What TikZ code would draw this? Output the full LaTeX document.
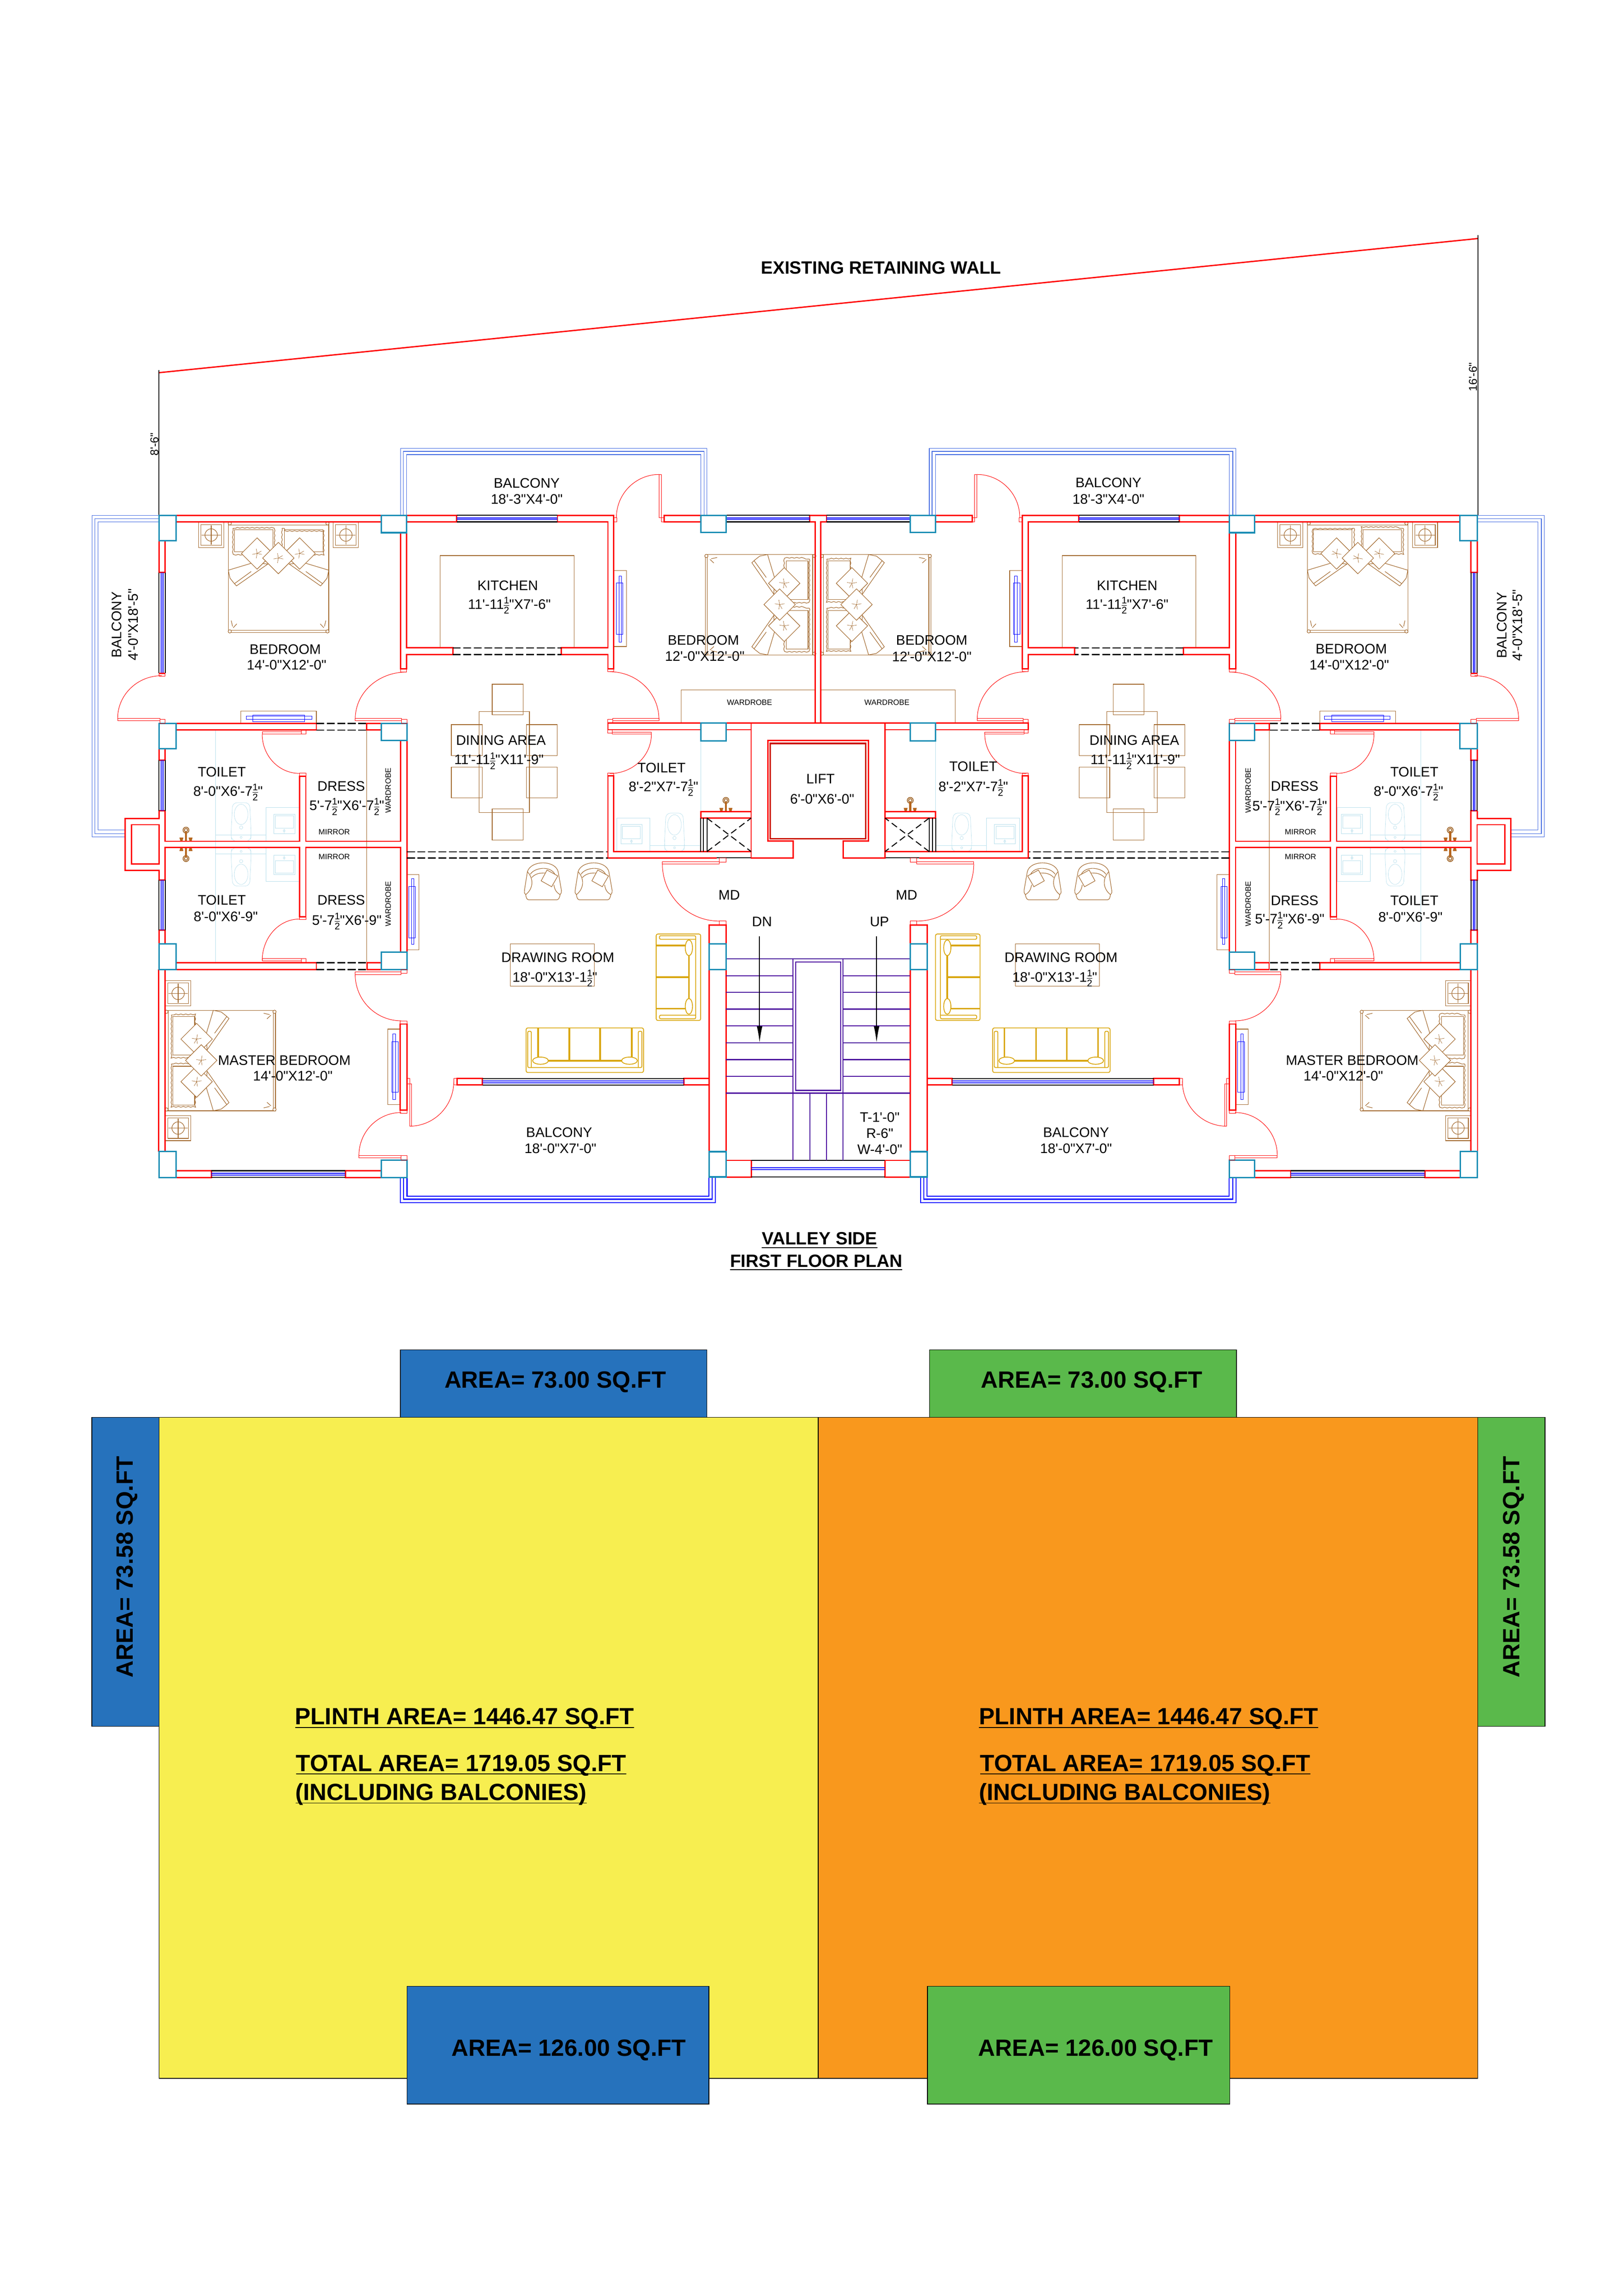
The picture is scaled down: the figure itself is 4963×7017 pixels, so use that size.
\documentclass[tikz,border=0pt]{standalone}
\usepackage{fontspec}
\usepackage{xcolor}
\usetikzlibrary{arrows.meta,decorations.pathmorphing}
\newfontfamily\cadfont{Liberation Sans}
\definecolor{wallred}{HTML}{FF0000}
\definecolor{liftred}{HTML}{CC1500}
\definecolor{colteal}{HTML}{1A8DB4}
\definecolor{paneblue}{HTML}{0000FF}
\definecolor{balblue}{HTML}{4169E1}
\definecolor{furnbrown}{HTML}{A0662A}
\definecolor{tapbrown}{HTML}{B5651D}
\definecolor{sanblue}{HTML}{B8DFEC}
\definecolor{sofagold}{HTML}{D9A60C}
\definecolor{stairviolet}{HTML}{4B0E9E}
\definecolor{areablue}{HTML}{2672BC}
\definecolor{areagreen}{HTML}{5AB94B}
\definecolor{areayellow}{HTML}{F7EE50}
\definecolor{areaorange}{HTML}{F9981D}
\tikzset{
  wall/.style={draw=wallred, line width=0.4mm},
  liftin/.style={draw=liftred, line width=0.45mm},
  colbox/.style={draw=colteal, line width=0.45mm, fill=white},
  winblk/.style={draw=black, line width=0.3mm},
  pane/.style={draw=paneblue, line width=0.28mm},
  gapline/.style={draw=black, line width=0.33mm, dash pattern=on 2.4mm off 0.8mm},
  crossline/.style={draw=black, line width=0.3mm, dash pattern=on 2mm off 1.1mm},
  balthin/.style={draw=balblue, line width=0.17mm},
  balthick/.style={draw=paneblue, line width=0.3mm},
  doorline/.style={draw=wallred, line width=0.14mm},
  furn/.style={draw=furnbrown, line width=0.16mm},
  acblue/.style={draw=paneblue, line width=0.12mm},
  san/.style={draw=sanblue, line width=0.1mm},
  sofa/.style={draw=sofagold, line width=0.25mm},
  sofathick/.style={draw=sofagold, line width=0.5mm},
  stair/.style={draw=stairviolet, line width=0.3mm},
  dimline/.style={draw=black, line width=0.25mm},
  areabox/.style={draw=black, line width=0.22mm},
  lab/.style={font=\cadfont\fontsize{12}{13}\selectfont, inner sep=0pt},
  labsm/.style={font=\cadfont\fontsize{6.7}{8}\selectfont, inner sep=0pt},
  labdim/.style={font=\cadfont\fontsize{9.9}{11}\selectfont, inner sep=0pt, rotate=90},
  labhead/.style={font=\cadfont\bfseries\fontsize{15.5}{17}\selectfont, inner sep=0pt},
  labarea/.style={font=\cadfont\bfseries\fontsize{20.45}{22}\selectfont, inner sep=0pt},
  labplinth/.style={labarea, anchor=west}
}
\setlength{\nulldelimiterspace}{0pt}
\newcommand{\hf}{\smash{$\frac{\hbox{\fontsize{8.3}{8}\selectfont 1}}{\hbox{\fontsize{8.3}{8}\selectfont 2}}$}}
\newcommand{\ulined}[1]{\setbox0\hbox{#1}\rlap{\rule[-1mm]{\wd0}{0.25mm}}\box0}
\newcommand{\WinH}[4]{%
  % #1,#2 = x range, #3,#4 = y of the two faces
  \draw[winblk] (#1,#3) -- (#2,#3) (#1,#4) -- (#2,#4);
  \draw[pane] (#1,{(#3+#4)/2-2.5}) -- (#2,{(#3+#4)/2-2.5}) (#1,{(#3+#4)/2+2.5}) -- (#2,{(#3+#4)/2+2.5});
}
\newcommand{\WinV}[4]{%
  % #1,#2 = x of the two faces, #3,#4 = y range
  \draw[winblk] (#1,#3) -- (#1,#4) (#2,#3) -- (#2,#4);
  \draw[pane] ({(#1+#2)/2-2.5},#3) -- ({(#1+#2)/2-2.5},#4) ({(#1+#2)/2+2.5},#3) -- ({(#1+#2)/2+2.5},#4);
}
\newcommand{\SwingH}[4]{%
  % leaf lies flat: #1,#2 = leaf tip, #3,#4 = end at the jamb
  \draw[doorline] (#1,#2) .. controls (#1,{#2+0.5523*(#4-#2)}) and ({#3+0.5523*(#1-#3)},#4) .. (#3,#4);
}
\newcommand{\SwingV}[4]{%
  % leaf stands upright: #1,#2 = leaf tip, #3,#4 = end at the jamb
  \draw[doorline] (#1,#2) .. controls ({#1+0.5523*(#3-#1)},#2) and (#3,{#4+0.5523*(#2-#4)}) .. (#3,#4);
}
\newcommand{\Cushion}[2]{%
  \draw[furn,fill=white] (#1,#2-48) -- (#1+48,#2) -- (#1,#2+48) -- (#1-48,#2) -- cycle;
  \foreach \ca in {10,100,170,260,330}
    \draw[furn,line width=0.1mm] (#1,#2) -- +(\ca:15);
}
\newcommand{\BedBody}{%
  % local: 307 wide, 336 long, head at v=0
  \draw[furn] (0,0) rectangle (307,336);
  \draw[furn] (0,8) -- (307,8) (0,330) -- (307,330);
  \foreach \cu/\cv in {4.5/3,303/3,4.5/333,303/333}
    \draw[furn,fill=white] (\cu,\cv) circle (5);
  \draw[furn,fill=white] (0,146) -- (73,124) -- (121,127) -- (25,194) -- (16,184) -- (5,170) -- cycle;
  \draw[furn] (19,187) -- (70,150);
  \draw[furn,fill=white] (307,146) -- (234,124) -- (186,127) -- (282,194) -- (291,184) -- (302,170) -- cycle;
  \draw[furn] (288,187) -- (237,150);
  \draw[furn,decorate,decoration={snake,amplitude=0.12mm,segment length=1.5mm}] (14,18) rectangle (145,94);
  \draw[furn,decorate,decoration={snake,amplitude=0.12mm,segment length=1.5mm}] (164,18) rectangle (294,94);
  \draw[furn] (19,22) rectangle (137,89) (171,22) rectangle (289,89);
  \Cushion{88}{95}
  \Cushion{218}{95}
  \Cushion{153}{109}
  \draw[furn] (9,300) -- (13,318) (15,322) -- (26,310) (298,300) -- (294,318) (292,322) -- (281,310);
}
\newcommand{\Stand}[2]{%
  % #1,#2 = top left corner of a bedside table
  \begin{scope}[shift={(#1,#2)}]
    \draw[furn] (0,0) rectangle (77,77) (7,7) rectangle (70,70);
    \draw[furn] (38.5,38.5) circle (19);
    \draw[furn] (9,38.5) -- (68,38.5) (38.5,9) -- (38.5,68);
  \end{scope}
}
\newcommand{\Sofa}[4]{%
  % #1 = length, #2 = first divider, #3 = last divider, #4 = all dividers
  \draw[sofa,rounded corners=0.5mm] (0,0) rectangle (#1,136);
  \draw[sofa,rounded corners=0.4mm] (16,121) -- (16,10) -- (5,10) -- (5,121) -- (#1-5,121) -- (#1-5,10) -- (#1-16,10) -- (#1-16,121);
  \foreach \su in {#4}
    \draw[sofathick] (\su,0) -- (\su,100);
  \draw[sofathick] (#2,100) -- (#3,100);
  \draw[sofa,fill=white] (#2+7,100) ellipse (24 and 11) (#3-7,100) ellipse (24 and 11);
}
\newcommand{\Armchair}[2]{%
  \begin{scope}[shift={(#1,#2)}]
    \draw[furn] (4,97) .. controls (-2,92) and (0,88) .. (0,84) -- (9,27) .. controls (20,-9) and (94,-9) .. (103,27) -- (113,84) .. controls (113,92) and (112,94) .. (109,97) .. controls (107,108) and (104,113) .. (98,113) -- (14,113) .. controls (8,113) and (5,108) .. (4,97);
    \draw[furn] (18,35) .. controls (30,14) and (80,8) .. (93,35);
    \draw[furn] (22,45) .. controls (35,31) and (50,31) .. (64,31);
    \draw[furn] (9,27) .. controls (30,50) and (26,80) .. (4,97);
    \draw[furn] (90,67) .. controls (92,80) and (96,90) .. (109,97);
    \draw[furn,fill=white] (69,22) -- (102,40) -- (83,73) -- (51,55) -- cycle;
  \end{scope}
}
\newcommand{\Tap}[2]{%
  % #1,#2 = point on the wall face under the tap
  \begin{scope}[shift={(#1,#2)}]
    \draw[furn,line width=0.25mm] (0,-34) circle (9) (0,-34) circle (5);
    \fill[tapbrown] (-3,-30) rectangle (3,-2);
    \fill[tapbrown] (-20,-11) -- (-8,-11) -- (-11,0) -- (-17,0) -- cycle;
    \fill[tapbrown] (20,-11) -- (8,-11) -- (11,0) -- (17,0) -- cycle;
  \end{scope}
}
\newcommand{\WetRoom}{%
  % local: wall face at y=0, partition side at x=0, room towards negative x
  \draw[san] (-100.6,-103.4) rectangle (0,0);
  \draw[san] (-77,-83) rectangle (-12.6,-24) (-72,-78) rectangle (-17,-40);
  \draw[san] (-45,-38) -- (-45,-24) (-45,-32) circle (3);
  \draw[san] (-254.6,-19) -- (-100.6,-19);
  \begin{scope}[shift={(-176.6,0)}]
    \draw[san,rounded corners=1.4mm] (-31,-19) -- (-26,-118) -- (26,-118) -- (31,-19) -- (28,0) -- (-28,0) -- cycle;
    \draw[san] (0,-82) ellipse (21 and 31);
    \draw[san] (0,-42) circle (5) (0,-12) circle (3);
  \end{scope}
}
\newcommand{\HalfPlan}{%
  % fixtures first, the walls go over them
  \draw[san] (659,2231) -- (659,2942) (2142,2264) -- (2142,2480);
  \begin{scope}[shift={(913.6,2571)}] \WetRoom \end{scope}
  \begin{scope}[shift={(0,5161)},yscale=-1]
    \begin{scope}[shift={(913.6,2571)}] \WetRoom \end{scope}
    \Tap{568.5}{2571}
  \end{scope}
  \begin{scope}[shift={(1885,2603)},xscale=-1] \WetRoom \end{scope}
  \Tap{568.5}{2571}
  \Tap{2218.8}{2480}
  % furniture
  \begin{scope}[shift={(697.8,1596.6)}] \BedBody \end{scope}
  \begin{scope}[shift={(2492,1694.7)},x={(0,-0.1mm)},y={(-0.1mm,0)}] \BedBody \end{scope}
  \begin{scope}[shift={(506,3087.7)},x={(0,-0.1mm)},y={(0.1mm,0)}] \BedBody \end{scope}
  \Stand{607}{1596.6}
  \Stand{1018.7}{1596.6}
  \Stand{506}{2997.5}
  \Stand{506}{3409}
  \draw[furn] (1345.5,1980) -- (1345.5,1698) -- (1754.5,1698) -- (1754.5,1980);
  \draw[furn] (2081.6,2210) -- (2081.6,2108.5) -- (2491,2108.5);
  \draw[furn] (1121,2231) -- (1121,2942);
  \draw[furn] (1464,2174.8) rectangle (1618,2483);
  \draw[furn] (1504.5,2091) rectangle (1599,2184.7) (1504.5,2472.5) rectangle (1599,2567);
  \draw[furn] (1379.5,2214.6) rectangle (1474,2309) (1379.5,2344) rectangle (1474,2438.5);
  \draw[furn] (1609,2214.6) rectangle (1702.7,2309) (1609,2344) rectangle (1702.7,2438.5);
  \Armchair{1603}{2637}
  \Armchair{1758}{2637}
  \begin{scope}[shift={(1608,3141.6)}] \Sofa{359}{37}{323}{37,132,226,323} \end{scope}
  \begin{scope}[shift={(2005.6,2854.6)},x={(0,-0.1mm)},y={(0.1mm,0)}] \Sofa{264}{35}{228}{35,132,228} \end{scope}
  % window hoods on the walls
  \draw[furn] (735.5,2211) -- (735.5,2173.6) -- (967,2173.6) -- (967,2211);
  \draw[acblue] (753,2188.3) rectangle (953.6,2197.8) (772.6,2185) rectangle (930.5,2205);
  \draw[furn] (1876,1743.6) -- (1915,1743.6) -- (1915,1976) -- (1876,1976);
  \draw[acblue] (1884,1781) rectangle (1903,1938) (1892,1761) rectangle (1900,1962);
  \draw[furn] (1244,2672.3) -- (1281,2672.3) -- (1281,2902.6) -- (1244,2902.6);
  \draw[acblue] (1250,2708.7) rectangle (1268.6,2866.8) (1258,2685.7) rectangle (1265,2886.6);
  \draw[furn] (1223.5,3145) -- (1185.7,3145) -- (1185.7,3376.4) -- (1223.5,3376.4);
  \draw[acblue] (1197,3183) rectangle (1218,3338.5) (1201,3159) rectangle (1209,3360);
  % balcony rails
  \draw[balthin] (1224,1575) -- (1224,1370.5) -- (2160.7,1370.5) -- (2160.7,1575);
  \draw[balthin] (1233,1575) -- (1233,1379.6) -- (2152,1379.6) -- (2152,1575);
  \draw[balthin] (1243,1575) -- (1243,1389.5) -- (2142,1389.5) -- (2142,1575);
  \draw[balthin] (486,1575.5) -- (281,1575.5) -- (281,2557.6) -- (383,2557.6);
  \draw[balthin] (486,1585) -- (290,1585) -- (290,2548) -- (383,2548);
  \draw[balthin] (486,1595) -- (300,1595) -- (300,2536.5) -- (383,2536.5);
  \draw[balthick] (1223.5,3598) -- (1223.5,3675) -- (2187,3675) -- (2187,3597);
  \draw[balthick] (1233,3598) -- (1233,3665) -- (2177,3665) -- (2177,3597);
  \draw[balthick] (1244,3598) -- (1244,3655.5) -- (2167,3655.5) -- (2167,3597);
  % walls
  \draw[wall] (538.6,1575.5) -- (1166,1575.5) (538.6,1595) -- (1166,1595);
  \draw[wall] (1243,1575.5) -- (1396,1575.5) -- (1396,1595) -- (1243,1595);
  \draw[wall] (1703.6,1575) -- (1876,1575) -- (1876,2044) -- (1858,2044) -- (1858,2000.7) -- (1716,2000.7) -- (1716,1980) -- (1858,1980) -- (1858,1595) -- (1703.6,1595) -- cycle;
  \draw[wall] (1224,1628) -- (1224,2044) -- (1243,2044) -- (1243,2000.7) -- (1384,2000.7) -- (1384,1980) -- (1243,1980) -- (1243,1628);
  \draw[gapline] (1384,1980) -- (1716,1980) (1384,2000.7) -- (1716,2000.7);
  \draw[wall] (2142,1575) -- (2029.5,1575) -- (2029.5,1595) -- (2142,1595);
  \draw[wall] (2475,1575) -- (2500.5,1575) (2475,1575) -- (2475,1595) -- (2492,1595) -- (2492,2210);
  \draw[wall] (486,1652.7) -- (486,1749.6) -- (505,1749.6) -- (505,1652.7);
  \draw[wall] (538.6,2211) -- (967,2211) -- (967,2231) -- (538.6,2231);
  \draw[gapline] (967,2211) -- (1121,2211) (967,2231) -- (1121,2231);
  \draw[wall] (1166,2211) -- (1121,2211) -- (1121,2231) -- (1166,2231);
  \draw[wall] (486,2288.4) -- (486,2323) -- (505,2323) -- (505,2288.4);
  \draw[wall] (486,2478) -- (505,2478) -- (505,2571) -- (915.7,2571) -- (915.7,2372) -- (934.7,2372) -- (934.7,2571) -- (1224.4,2571) -- (1224.4,2263);
  \draw[wall] (486,2478) -- (486,2501.4) -- (383,2501.4) -- (383,2659.6) -- (486,2659.6) -- (486,2689.5) -- (505,2689.5) -- (505,2590) -- (915.7,2590) -- (915.7,2802.4) -- (934.7,2802.4) -- (934.7,2590) -- (1224.4,2590) -- (1224.4,2910);
  \draw[wall] (402,2520.5) rectangle (486.4,2640.4);
  \draw[wall] (486,2884.5) -- (486,2843) -- (505,2843) -- (505,2884.5);
  \draw[wall] (1244,2263) -- (1244,2910);
  \draw[wall] (538,2942) -- (967,2942) -- (967,2963) -- (538,2963);
  \draw[gapline] (967,2942) -- (1122,2942) (967,2963) -- (1122,2963);
  \draw[wall] (1166,2942) -- (1122,2942) -- (1122,2963) -- (1166,2963);
  \draw[wall] (485,2963) -- (485,3519.4) (505,2963) -- (505,3519.4);
  \draw[wall] (538,3578) -- (646,3578) -- (646,3598.6) -- (538,3598.6);
  \draw[wall] (1166,3578) -- (1056,3578) -- (1056,3598.6) -- (1166,3598.6);
  \draw[wall] (1223.5,3129.6) rectangle (1244,3393);
  \draw[wall] (1397,3296) rectangle (1474.5,3316);
  \draw[wall] (2090.6,3296) rectangle (2167,3315.5);
  \draw[wall] (2167,3597) -- (2167,2826.6) -- (2219,2826.6) -- (2219,3597);
  \draw[wall] (2219,3546.3) -- (2296.4,3546.3) -- (2296.4,3597) -- (2219,3597);
  \draw[gapline] (1244,2603) -- (1858,2603) (1244,2622) -- (1858,2622);
  \draw[wall] (1858,2622) -- (1858,2371) -- (1876,2371) -- (1876,2603) -- (2296,2603);
  \draw[wall] (1858,2622) -- (2191,2622);
  \draw[winblk] (2191,2622) -- (2296,2622);
  \draw[wall] (2142,2230) -- (1858,2230) -- (1858,2210) -- (2500.5,2210);
  \draw[wall] (2219,2230) -- (2296,2230);
  % lift block and duct
  \draw[wall] (2296,2210) -- (2296,2622) -- (2424,2622) -- (2424,2570.5) -- (2347,2570.5) -- (2347,2262.5) -- (2500.5,2262.5);
  \draw[liftin] (2500.5,2272) -- (2354.6,2272) -- (2354.6,2563.4) -- (2500.5,2563.4);
  \draw[wall] (2142,2480) rectangle (2296,2500);
  \draw[winblk] (2141,2500) -- (2141,2603) (2150.5,2500) -- (2150.5,2603) (2160.7,2500) -- (2160.7,2603);
  \draw[crossline] (2160.7,2500) -- (2296,2602.7) (2160.7,2602.7) -- (2296,2500);
  % windows
  \WinH{1396}{1703.6}{1575}{1595}
  \WinH{2219}{2475}{1575}{1595}
  \WinV{486}{505}{1749.6}{2057.6}
  \WinV{486}{505}{2323}{2478}
  \WinV{486}{505}{2689.5}{2843}
  \WinH{646}{1056}{3578}{3598.6}
  \WinH{1474.5}{2090.6}{3296}{3316}
  \draw[winblk] (2296.4,3546.3) -- (2500.5,3546.3) (2296.4,3597) -- (2500.5,3597);
  \draw[pane] (2296.4,3569.5) -- (2500.5,3569.5) (2296.4,3574) -- (2500.5,3574);
  % stair
  \foreach \ty in {2930.4,2981.6,3032.8,3084,3135.2,3186.5,3238.4,3289.6,3340.8}
    \draw[stair] (2219,\ty) -- (2424,\ty);
  \draw[stair] (2500.5,2930.4) -- (2424,2930.4) -- (2424,3546.3);
  \draw[stair] (2500.5,2939.5) -- (2432,2939.5) -- (2432,3332.4) -- (2500.5,3332.4);
  \draw[stair] (2424,3340.8) -- (2500.5,3340.8);
  \draw[stair] (2475.5,3340.8) -- (2475.5,3546.3);
  \draw[-{Latex[length=5mm,width=1.7mm]},line width=0.3mm] (2321.7,2861.7) -- (2321.7,3186.5);
  % columns
  \draw[colbox] (486,1575.5) rectangle (538.6,1652.7);
  \draw[colbox] (1166,1575.5) rectangle (1243,1628);
  \draw[colbox] (2142,1575) rectangle (2219,1627.5);
  \draw[colbox] (486,2211) rectangle (538.6,2288.4);
  \draw[colbox] (1166,2211) rectangle (1244,2263);
  \draw[colbox] (2142,2210) rectangle (2219,2264);
  \draw[colbox] (486,2884.5) rectangle (538,2963);
  \draw[colbox] (1166,2910) rectangle (1244,2963);
  \draw[colbox] (2167,2885) rectangle (2219,2962.7);
  \draw[colbox] (486,3519.4) rectangle (538,3598.6);
  \draw[colbox] (1166,3545.7) rectangle (1244,3598.6);
  \draw[colbox] (2167,3519.7) rectangle (2219,3597);
  % doors
  \draw[doorline] (2015,1450) rectangle (2022,1582) (1876,1582) rectangle (1886,1595) (2022,1582) rectangle (2029.5,1595);
  \SwingV{2015}{1450}{1884}{1582}
  \draw[doorline] (359.5,2196) rectangle (489,2202.4) (486,2057.6) rectangle (505,2067) (489,2198) rectangle (505,2211);
  \SwingH{359.5}{2196}{494}{2065}
  \draw[doorline] (1086,2196) rectangle (1227,2202) (1224,2044) rectangle (1243,2054) (1227,2198) rectangle (1244,2211);
  \SwingH{1086}{2196}{1242}{2054}
  \draw[doorline] (1873,2196) rectangle (2014,2202) (1858,2044) rectangle (1876,2053) (1858,2198) rectangle (1873,2210);
  \SwingH{2014}{2198}{1864}{2053}
  \draw[doorline] (1871,2237) rectangle (1991,2243.6) (1858,2230) rectangle (1871,2240) (1858,2363) rectangle (1876,2371);
  \SwingH{1991}{2243.6}{1864}{2364}
  \draw[doorline] (801.4,2236) rectangle (922,2243.8) (922,2231) rectangle (934.7,2243) (915.7,2363) rectangle (934.7,2372);
  \SwingH{801.4}{2243.8}{915}{2363.6}
  \draw[doorline] (801.4,2929.3) rectangle (922,2936) (922,2930) rectangle (934.7,2942) (915.7,2802.4) rectangle (934.7,2810);
  \SwingH{801.4}{2936}{915}{2808.8}
  \draw[doorline] (1085.7,2970.5) rectangle (1226.5,2978) (1226.5,2963) rectangle (1244,2975) (1223.5,3120) rectangle (1244,3129.6);
  \SwingH{1085.7}{2978}{1226.5}{3119.8}
  \draw[doorline] (1097,3531.4) rectangle (1226.5,3538) (1223.5,3393) rectangle (1244,3402) (1226.5,3532) rectangle (1244,3545.7);
  \SwingH{1097}{3531.4}{1226.5}{3400}
  \draw[doorline] (1252,3312) rectangle (1258,3441.8) (1244,3296) rectangle (1252,3312) (1387,3296) rectangle (1397,3316);
  \SwingV{1252}{3441.8}{1387}{3305}
  \draw[doorline] (2024.7,2633) rectangle (2198.5,2640.7) (2198.5,2622) rectangle (2219,2635) (2198.5,2815) rectangle (2219,2826.6);
  \SwingH{2024.7}{2640.7}{2198.5}{2815}
  \draw[wall] (486,2057.6) -- (505,2057.6);
}

\begin{document}
\begin{tikzpicture}[x=0.1mm, y=-0.1mm, line join=miter]
  \useasboundingbox (0,0) rectangle (4963,7017);
  % site line above the plan
  \draw[wall] (486,1139) -- (4517,729);
  \draw[dimline] (486,1131) -- (486,1575) (4517,719) -- (4517,1575);
  \node[labdim] (dimL) at (472,1358) {8'-6"};
  \node[labdim] (dimR) at (4502,1152) {16'-6"};
  \node[labhead] (wallname) at (2693,819) {EXISTING RETAINING WALL};

  % left flat, then the same flat turned over for the right
  \begin{scope} \HalfPlan \end{scope}
  \begin{scope}[shift={(5001,0)},xscale=-1] \HalfPlan \end{scope}
  \draw[furn] (1560,2884.4) rectangle (1817,3013.6);
  \draw[furn] (3103,2884.4) rectangle (3360,3013.6);

  % room names, left
  \node[lab,rotate=90] (balLa) at (356,1909) {BALCONY};
  \node[lab,rotate=90] (balLb) at (407.5,1909) {4'-0"X18'-5"};
  \node[lab] (balTa) at (1610,1476) {BALCONY};
  \node[lab] (balTb) at (1610,1525) {18'-3"X4'-0"};
  \node[lab] (bedAa) at (872,1984) {BEDROOM};
  \node[lab] (bedAb) at (876,2033) {14'-0"X12'-0"};
  \node[lab] (kitAa) at (1552,1789) {KITCHEN};
  \node[lab] (kitAb) at (1557,1847) {11'-11\hf"X7'-6"};
  \node[lab] (bedBa) at (2150,1957) {BEDROOM};
  \node[lab] (bedBb) at (2154,2006) {12'-0"X12'-0"};
  \node[labsm] (wrdA) at (2291,2147) {WARDROBE};
  \node[lab] (dinAa) at (1531,2263) {DINING AREA};
  \node[lab] (dinAb) at (1525,2322) {11'-11\hf"X11'-9"};
  \node[lab] (toiBa) at (2022,2346) {TOILET};
  \node[lab] (toiBb) at (2028,2404) {8'-2"X7'-7\hf"};
  \node[lab] (toiAa) at (678,2359) {TOILET};
  \node[lab] (toiAb) at (697,2418) {8'-0"X6'-7\hf"};
  \node[lab] (drsAa) at (1043,2403) {DRESS};
  \node[lab] (drsAb) at (1060,2462) {5'-7\hf"X6'-7\hf"};
  \node[labsm,rotate=90] (wrdB) at (1186.5,2416) {WARDROBE};
  \node[labsm] (mirA) at (1021.6,2543) {MIRROR};
  \node[labsm] (mirB) at (1021.6,2619) {MIRROR};
  \node[lab] (toiCa) at (678,2751) {TOILET};
  \node[lab] (toiCb) at (690,2802) {8'-0"X6'-9"};
  \node[lab] (drsBa) at (1043,2751) {DRESS};
  \node[lab] (drsBb) at (1060,2812) {5'-7\hf"X6'-9"};
  \node[labsm,rotate=90] (wrdC) at (1186.5,2762) {WARDROBE};
  \node[lab] (drwAa) at (1705,2926) {DRAWING ROOM};
  \node[lab] (drwAb) at (1696,2986) {18'-0"X13'-1\hf"};
  \node[lab] (masAa) at (869,3240) {MASTER BEDROOM};
  \node[lab] (masAb) at (895,3289) {14'-0"X12'-0"};
  \node[lab] (balBa) at (1709,3461) {BALCONY};
  \node[lab] (balBb) at (1713,3510) {18'-0"X7'-0"};
  % middle
  \node[lab] (liftA) at (2508,2380) {LIFT};
  \node[lab] (liftB) at (2513,2442) {6'-0"X6'-0"};
  \node[lab] (mdA) at (2229,2735) {MD};
  \node[lab] (mdB) at (2771,2735) {MD};
  \node[lab] (dnA) at (2329,2817) {DN};
  \node[lab] (upA) at (2688,2817) {UP};
  \node[lab] (treadA) at (2689,3414) {T-1'-0"};
  \node[lab] (riseA) at (2689,3464) {R-6"};
  \node[lab] (widA) at (2689,3513) {W-4'-0"};
  % room names, right
  \node[lab,rotate=90] (balRa) at (4590,1911) {BALCONY};
  \node[lab,rotate=90] (balRb) at (4639,1911) {4'-0"X18'-5"};
  \node[lab] (balUa) at (3388,1475) {BALCONY};
  \node[lab] (balUb) at (3388,1525) {18'-3"X4'-0"};
  \node[lab] (bedCa) at (4130,1983) {BEDROOM};
  \node[lab] (bedCb) at (4124,2033) {14'-0"X12'-0"};
  \node[lab] (kitBa) at (3445,1789) {KITCHEN};
  \node[lab] (kitBb) at (3445,1847) {11'-11\hf"X7'-6"};
  \node[lab] (bedDa) at (2848,1957) {BEDROOM};
  \node[lab] (bedDb) at (2848,2007) {12'-0"X12'-0"};
  \node[labsm] (wrdD) at (2711,2147) {WARDROBE};
  \node[lab] (dinBa) at (3467,2263) {DINING AREA};
  \node[lab] (dinBb) at (3470,2322) {11'-11\hf"X11'-9"};
  \node[lab] (toiDa) at (2975,2343) {TOILET};
  \node[lab] (toiDb) at (2975,2404) {8'-2"X7'-7\hf"};
  \node[lab] (toiEa) at (4323,2359) {TOILET};
  \node[lab] (toiEb) at (4305,2418) {8'-0"X6'-7\hf"};
  \node[lab] (drsCa) at (3957,2403) {DRESS};
  \node[lab] (drsCb) at (3942,2463) {5'-7\hf"X6'-7\hf"};
  \node[labsm,rotate=90] (wrdE) at (3815,2416) {WARDROBE};
  \node[labsm] (mirC) at (3975,2543) {MIRROR};
  \node[labsm] (mirD) at (3975,2619) {MIRROR};
  \node[lab] (toiFa) at (4323,2752) {TOILET};
  \node[lab] (toiFb) at (4311,2803) {8'-0"X6'-9"};
  \node[lab] (drsDa) at (3957,2752) {DRESS};
  \node[lab] (drsDb) at (3942,2809) {5'-7\hf"X6'-9"};
  \node[labsm,rotate=90] (wrdF) at (3815,2762) {WARDROBE};
  \node[lab] (drwBa) at (3243,2926) {DRAWING ROOM};
  \node[lab] (drwBb) at (3224,2986) {18'-0"X13'-1\hf"};
  \node[lab] (masBa) at (4133,3240) {MASTER BEDROOM};
  \node[lab] (masBb) at (4106,3289) {14'-0"X12'-0"};
  \node[lab] (balCa) at (3289,3461) {BALCONY};
  \node[lab] (balCb) at (3289,3510) {18'-0"X7'-0"};
  % plan title
  \node[labhead] (titleA) at (2505,3790) {\ulined{VALLEY SIDE}};
  \node[labhead] (titleB) at (2495,3858) {\ulined{FIRST FLOOR PLAN}};

  % area diagram
  \draw[areabox,fill=areayellow] (486,4331.6) rectangle (2500.6,6352);
  \draw[areabox,fill=areaorange] (2500.6,4331.6) rectangle (4517,6352);
  \draw[areabox,fill=areablue] (1224,4125) rectangle (2160.8,4331.6);
  \draw[areabox,fill=areablue] (281,4331.6) rectangle (486,5276);
  \draw[areabox,fill=areablue] (1244,6070.5) rectangle (2167,6430);
  \draw[areabox,fill=areagreen] (2841,4125) rectangle (3779,4331.6);
  \draw[areabox,fill=areagreen] (4517,4331.6) rectangle (4722,5276);
  \draw[areabox,fill=areagreen] (2835,6070.5) rectangle (3759,6430);
  \node[labarea] (areaTL) at (1697,4224) {AREA= 73.00 SQ.FT};
  \node[labarea] (areaTR) at (3337,4224) {AREA= 73.00 SQ.FT};
  \node[labarea,rotate=90] (areaSL) at (388,4789) {AREA= 73.58 SQ.FT};
  \node[labarea,rotate=90] (areaSR) at (4627,4789) {AREA= 73.58 SQ.FT};
  \node[labarea] (areaBL) at (1738.4,6265) {AREA= 126.00 SQ.FT};
  \node[labarea] (areaBR) at (3349,6265) {AREA= 126.00 SQ.FT};
  \node[labplinth] (plinL) at (901,5253) {\ulined{PLINTH AREA= 1446.47 SQ.FT}};
  \node[labplinth] (totL) at (904,5395) {\ulined{TOTAL AREA= 1719.05 SQ.FT}};
  \node[labplinth] (incL) at (902.6,5483) {\ulined{(INCLUDING BALCONIES)}};
  \node[labplinth] (plinR) at (2992,5253) {\ulined{PLINTH AREA= 1446.47 SQ.FT}};
  \node[labplinth] (totR) at (2995,5395) {\ulined{TOTAL AREA= 1719.05 SQ.FT}};
  \node[labplinth] (incR) at (2992,5483) {\ulined{(INCLUDING BALCONIES)}};
\end{tikzpicture}
\end{document}
